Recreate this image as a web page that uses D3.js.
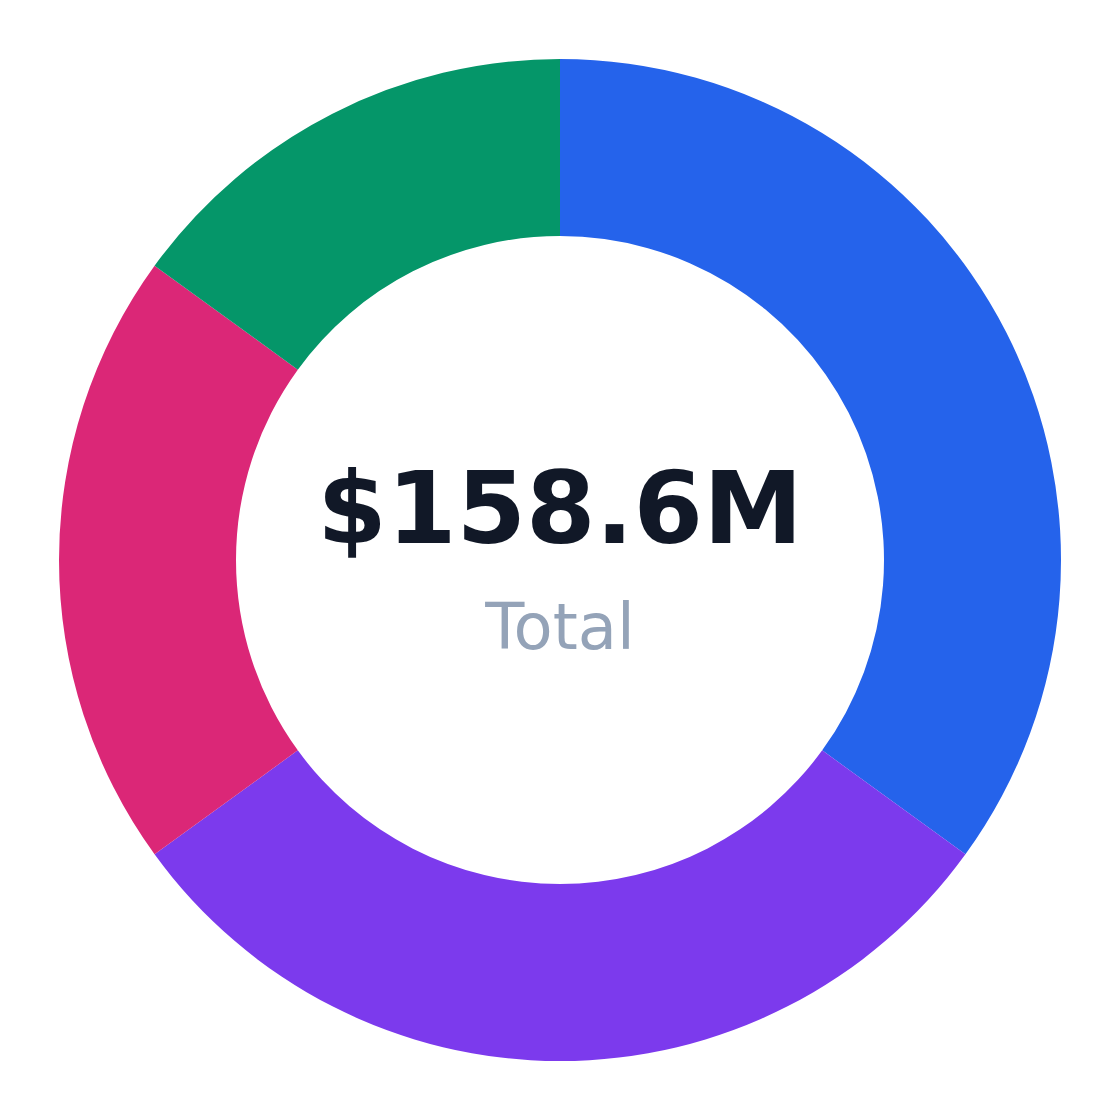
<!DOCTYPE html>
<html>
<head>
<meta charset="utf-8">
<script src="https://cdn.jsdelivr.net/npm/d3@7"></script>
<style>
  body { margin: 0; background: #fff; }
</style>
</head>
<body>
<script>
const categories = ["A", "B", "C", "D"];
const values = [55.5, 47.6, 31.7, 23.8];
const colors = ["#2563eb", "#7c3aed", "#db2777", "#059669"];
const totalLabel = "$158.6M";
const subLabel = "Total";

const w = 1120;
const h = 1120;
const cx = 560;
const cy = 560;
const outerR = 501;
const innerR = 324;

const svg = d3
  .select("body")
  .append("svg")
  .attr("width", w)
  .attr("height", h);

const pie = d3.pie().sort(null).value((d) => d.value);
const arc = d3.arc().innerRadius(innerR).outerRadius(outerR);

const data = categories.map((c, i) => ({ name: c, value: values[i], color: colors[i] }));

svg
  .append("g")
  .attr("transform", "translate(" + cx + "," + cy + ")")
  .selectAll("path")
  .data(pie(data))
  .enter()
  .append("path")
  .attr("d", arc)
  .attr("fill", (d) => d.data.color);

svg
  .append("text")
  .text(totalLabel)
  .attr("x", cx)
  .attr("y", 543)
  .attr("text-anchor", "middle")
  .attr("font-family", "DejaVu Sans")
  .attr("font-weight", "bold")
  .attr("font-size", 100)
  .attr("fill", "#111827");

svg
  .append("text")
  .text(subLabel)
  .attr("x", cx)
  .attr("y", 649)
  .attr("text-anchor", "middle")
  .attr("font-family", "DejaVu Sans")
  .attr("font-size", 64)
  .attr("fill", "#94a3b8");
</script>
</body>
</html>
